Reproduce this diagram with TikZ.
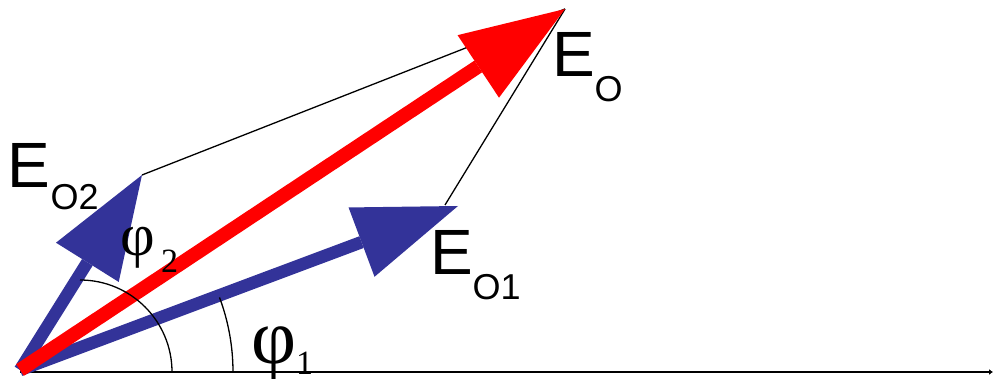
\documentclass[tikz,border=0pt]{standalone}
\usepackage{fontspec}
\setmainfont{Liberation Sans}
\newfontfamily\serifgr{Liberation Serif}
\usetikzlibrary{arrows.meta}
\definecolor{vblue}{HTML}{333399}
\definecolor{vred}{HTML}{FF0000}
\begin{document}
\begin{tikzpicture}[x=1pt,y=-1pt,
  helper/.style={draw=black, line width=1.3pt},
  axisline/.style={draw=black, line width=2.6pt, -{Latex[length=4pt,width=6pt]}},
  vecred/.style={draw=vred, line width=14pt, -{Triangle[length=104pt,width=75pt,line width=0pt]}},
  vecblue/.style={draw=vblue, line width=12.5pt, -{Triangle[length=103pt,width=74pt,line width=0pt]}},
  anglearc/.style={draw=black, line width=1.3pt},
  elab/.style={inner sep=0pt, outer sep=0pt, anchor=base west, font=\fontsize{64}{64}\selectfont},
  plab/.style={inner sep=0pt, outer sep=0pt, anchor=base west}]
\useasboundingbox (0,0) rectangle (994,379);
% points
\coordinate (O) at (20,370);
\coordinate (A) at (565,9);
\coordinate (B) at (458,206);
\coordinate (C) at (142,175);
\coordinate (P) at (445,205);
\coordinate (X0) at (20,372);
\coordinate (X1) at (993,372);
% axis
\draw[axisline] (X0) -- (X1);
% parallelogram helper lines
\draw[helper] (C) -- (A);
\draw[helper] (P) -- (A);
% vectors
\draw[vecblue] (O) -- (B);
\draw[vecblue] (O) -- (C);
\draw[vecred] (O) -- (A);
% angle arcs
\draw[anglearc] (80,280) arc[start angle=-90, end angle=0, radius=92];
\draw[anglearc] (233,372) arc[start angle=0, end angle=-20.5, radius=213];
% labels
\node[elab] (lEO2) at (8,188) {E\raisebox{-22pt}{\fontsize{36}{36}\selectfont O2}};
\node[elab] (lEO) at (552,77) {E\raisebox{-25pt}{\fontsize{36}{36}\selectfont O}};
\node[elab] (lEO1) at (430,275) {E\raisebox{-25pt}{\fontsize{36}{36}\selectfont O1}};
\node[plab] (lphi2) at (120,256) {\serifgr\fontsize{60}{60}\selectfont\makebox[41pt][l]{φ}\raisebox{-17pt}{\fontsize{34}{34}\selectfont 2}};
\node[plab] (lphi1) at (251,364) {\serifgr\fontsize{78}{78}\selectfont\makebox[45pt][l]{φ}\raisebox{-11pt}{\fontsize{34}{34}\selectfont 1}};
\end{tikzpicture}
\end{document}
